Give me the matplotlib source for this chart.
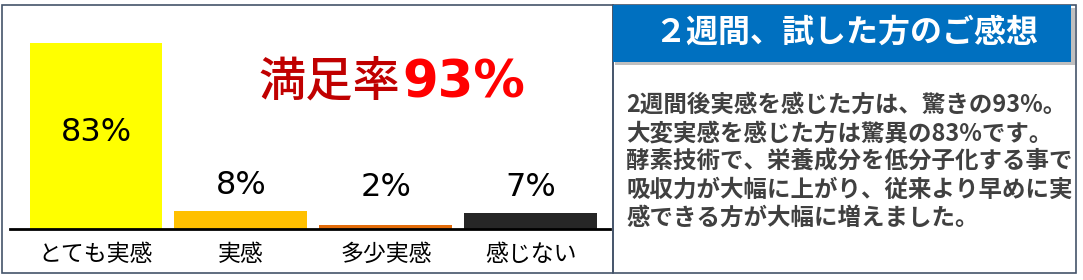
import matplotlib.pyplot as plt
from matplotlib.patches import Rectangle

plt.rcParams['font.family'] = ['Noto Sans CJK JP', 'DejaVu Sans']

# データ
categories = ['とても実感', '実感', '多少実感', '感じない']
values = [83, 8, 2, 7]
value_labels = ['83%', '8%', '2%', '7%']
colors = ['#ffff00', '#ffc000', '#e36c0a', '#262626']

title_text = '２週間、試した方のご感想'
body_lines = [
    '2週間後実感を感じた方は、驚きの93%。',
    '大変実感を感じた方は驚異の83%です。',
    '酵素技術で、栄養成分を低分子化する事で',
    '吸収力が大幅に上がり、従来より早めに実',
    '感できる方が大幅に増えました。',
]

W, H = 1083, 280
fig = plt.figure(figsize=(W / 100, H / 100), dpi=100)
fig.patch.set_facecolor('white')

def fx(px):
    return px / W

def fy(py):
    return 1 - py / H

border = '#44546a'

# 左パネルの枠
fig.patches.append(Rectangle((fx(2), fy(273)), fx(613 - 2), (273 - 5) / H,
                             transform=fig.transFigure, fill=False,
                             edgecolor=border, lw=1.2))
# 右パネルの枠
fig.patches.append(Rectangle((fx(613), fy(273)), fx(1076 - 613), (273 - 5) / H,
                             transform=fig.transFigure, fill=False,
                             edgecolor=border, lw=1.2))
# 見出しの影と帯
fig.patches.append(Rectangle((fx(615), fy(65)), fx(1075 - 615), (65 - 8) / H,
                             transform=fig.transFigure, facecolor='#bfbfbf',
                             edgecolor='none'))
fig.patches.append(Rectangle((fx(613), fy(62)), fx(1071 - 613), (62 - 5) / H,
                             transform=fig.transFigure, facecolor='#0070c0',
                             edgecolor='none'))

# 棒グラフ
ax = fig.add_axes([fx(10), fy(229), fx(600), 221 / H])
x = range(len(categories))
ax.bar(x, values, width=0.917, color=colors)
ax.set_xlim(-0.593, 3.545)
ax.set_ylim(0, 98.6)
ax.set_facecolor('none')
for s in ['top', 'right', 'left']:
    ax.spines[s].set_visible(False)
ax.spines['bottom'].set_linewidth(2)
ax.set_yticks([])
ax.set_xticks(list(x))
ax.set_xticklabels(categories, fontsize=16.5)
ax.tick_params(axis='x', length=0, pad=10)

for i, (v, lab) in enumerate(zip(values, value_labels)):
    if i == 0:
        ax.text(i, v * 0.52, lab, ha='center', va='center', fontsize=23,
                family='DejaVu Sans')
    else:
        ax.text(i, max(v, 7) + 11.6, lab, ha='center', va='center',
                fontsize=23, family='DejaVu Sans')

# 満足率
fig.text(fx(259), fy(82), '満足率', color='#c00000', fontsize=34,
         ha='left', va='center', fontweight='medium')
fig.text(fx(402), fy(84), '93%', color='#ff0000', fontsize=37,
         ha='left', va='center', fontweight='heavy', family='DejaVu Sans')

# 右パネルの文字
fig.text(fx(846), fy(33), title_text, color='white', fontsize=23,
         ha='center', va='center', fontweight='bold')
for k, line in enumerate(body_lines):
    fig.text(fx(626), fy(105 + k * 28.3), line, color='#404040', fontsize=16.9,
             ha='left', va='center', fontweight='bold')

fig.savefig('out.png', dpi=100)
